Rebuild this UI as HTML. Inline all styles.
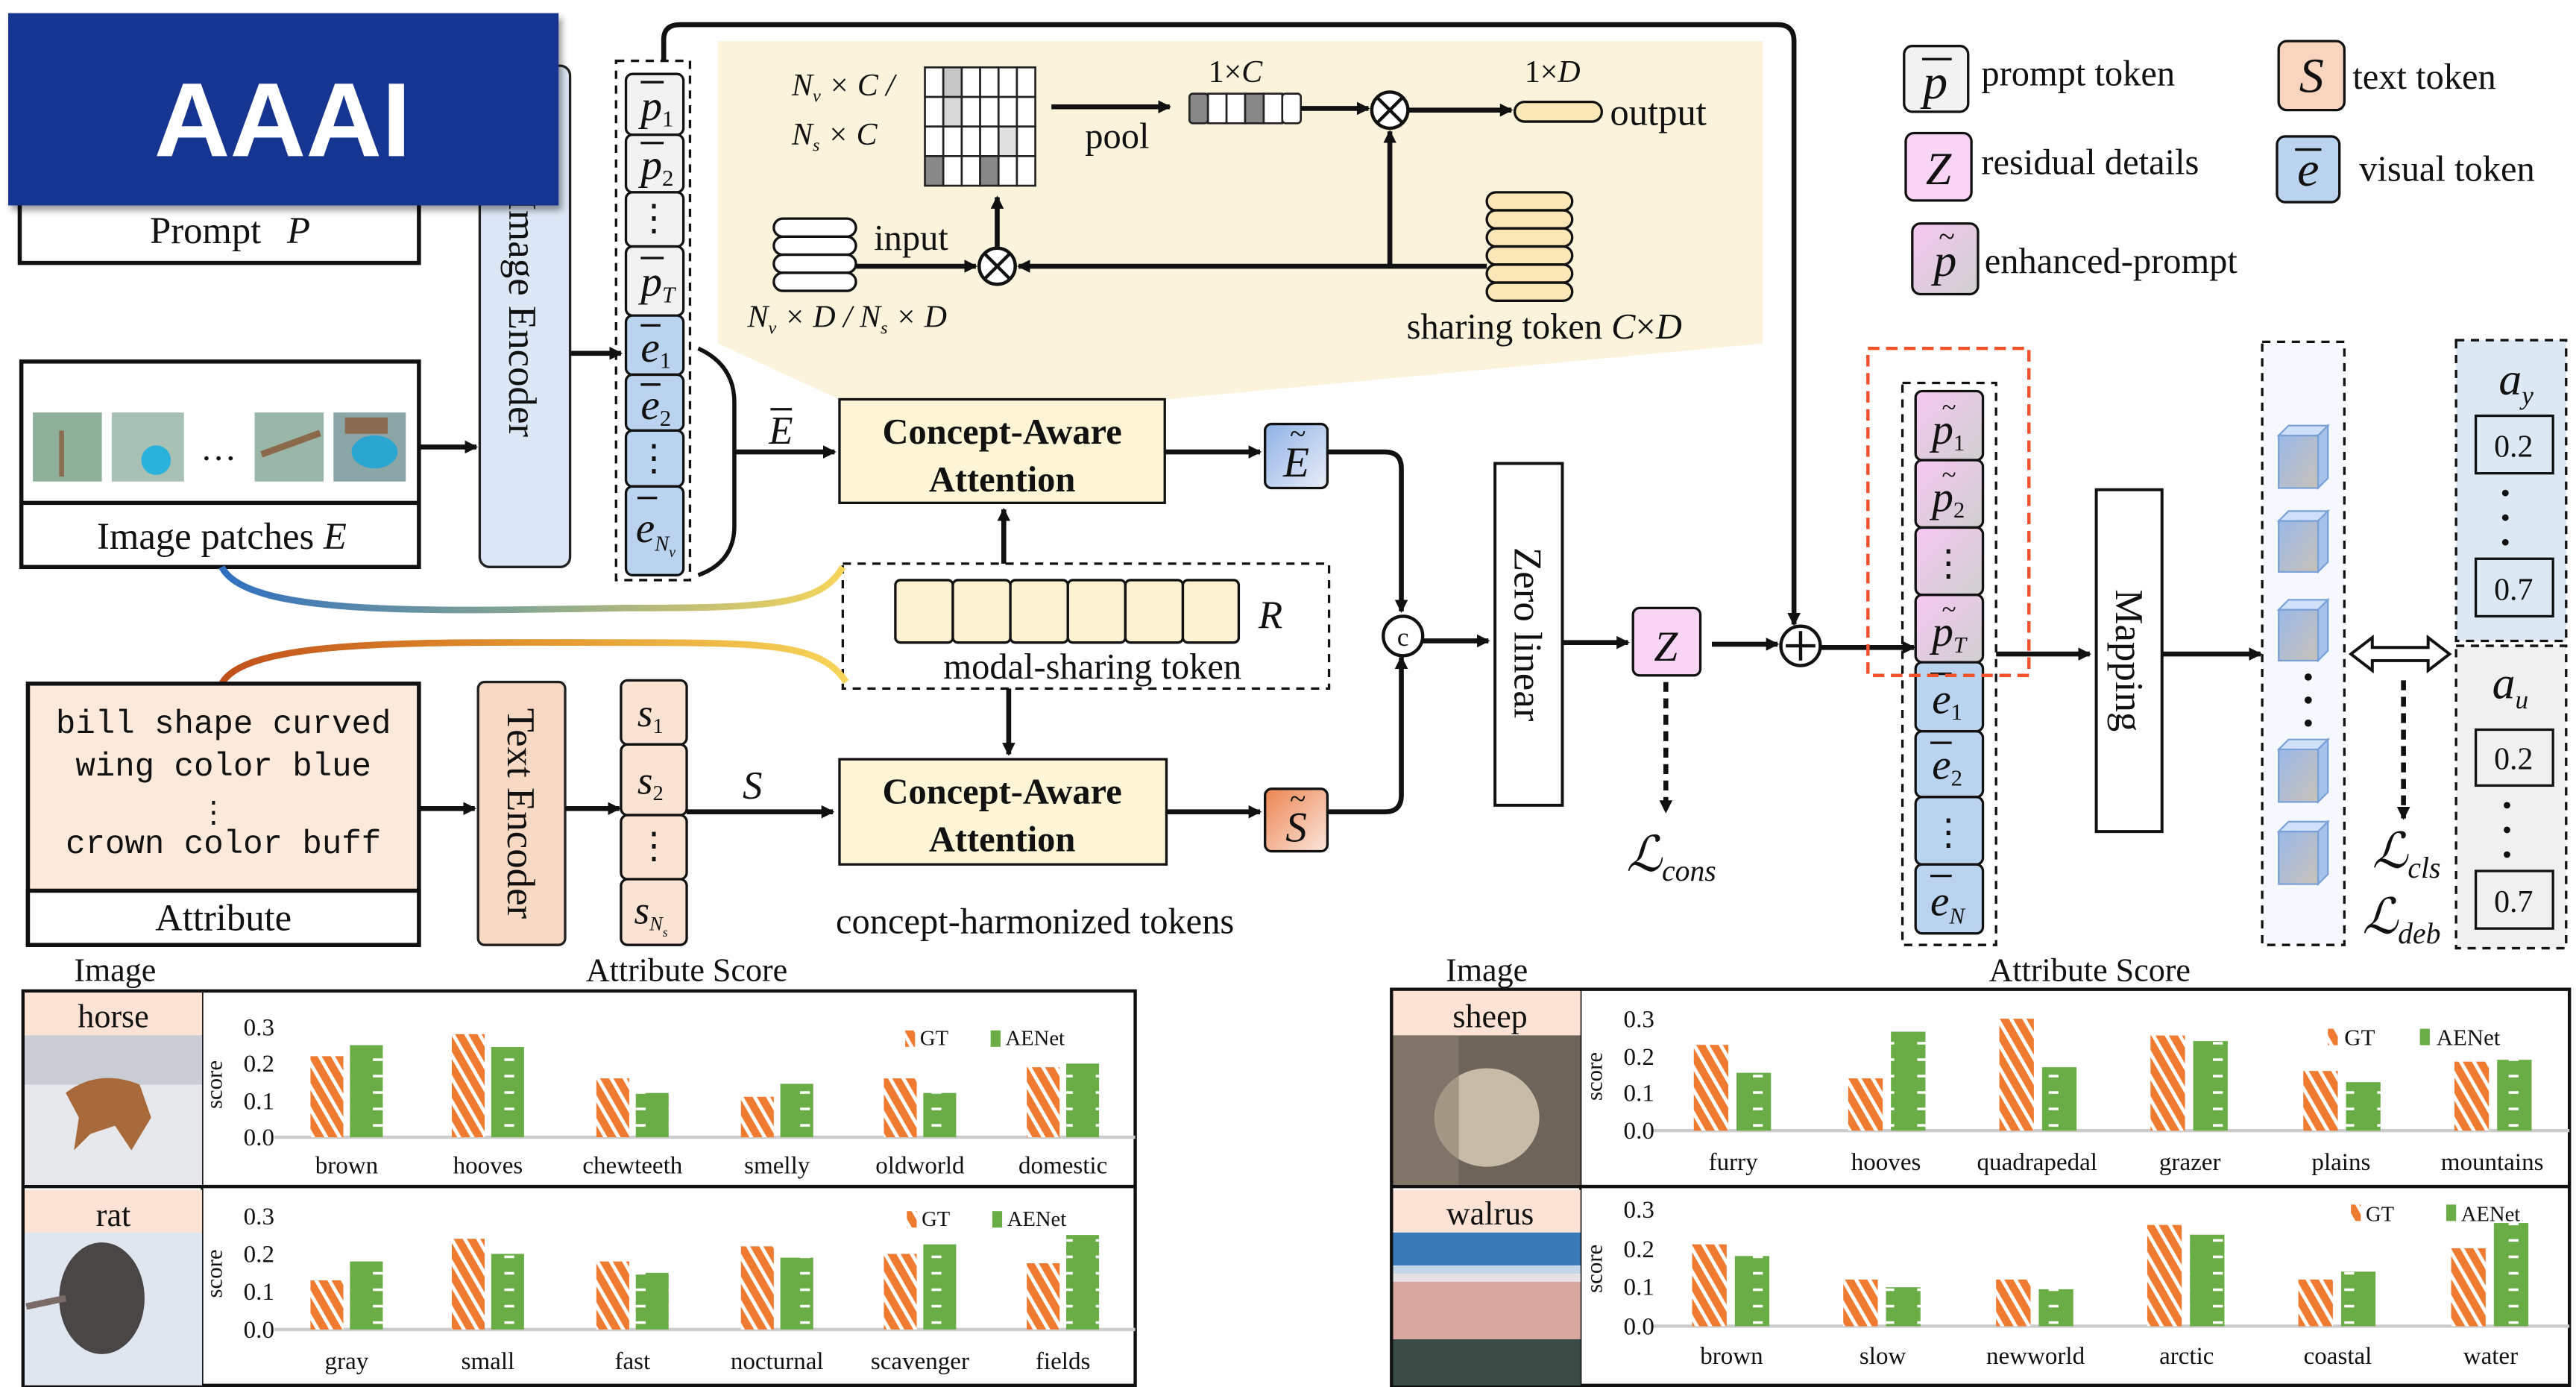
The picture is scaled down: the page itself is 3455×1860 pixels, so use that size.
<!DOCTYPE html>
<html><head><meta charset="utf-8"><style>
html,body{margin:0;padding:0;background:#fff;}
svg{display:block;}
text{font-family:"Liberation Serif",serif;fill:#111;}
.it{font-style:italic;}
.mono{font-family:"Liberation Mono",monospace;}
</style></head><body>
<svg width="3455" height="1860" viewBox="0 0 1568 844" preserveAspectRatio="none" xmlns="http://www.w3.org/2000/svg">
<defs>
<marker id="ar" markerWidth="8" markerHeight="8" refX="7" refY="4" orient="auto" markerUnits="userSpaceOnUse"><path d="M0,0 L8,4 L0,8 z" fill="#111"/></marker>
<linearGradient id="gb" x1="0" x2="1"><stop offset="0" stop-color="#2f6fc0"/><stop offset="0.5" stop-color="#8aa890"/><stop offset="1" stop-color="#f7d55a"/></linearGradient>
<linearGradient id="go" x1="0" x2="1"><stop offset="0" stop-color="#c0501a"/><stop offset="0.5" stop-color="#e3962e"/><stop offset="1" stop-color="#f7d55a"/></linearGradient>
<linearGradient id="tp" x1="0" y1="0" x2="1" y2="1"><stop offset="0" stop-color="#f6c8f2"/><stop offset="1" stop-color="#cfcfcf"/></linearGradient>
<linearGradient id="te" x1="0" y1="0" x2="1" y2="1"><stop offset="0" stop-color="#8fb2e6"/><stop offset="1" stop-color="#e9eef8"/></linearGradient>
<linearGradient id="ts" x1="0" y1="0" x2="1" y2="1"><stop offset="0" stop-color="#ec8450"/><stop offset="1" stop-color="#fbe6dc"/></linearGradient>
<linearGradient id="cube" x1="0" y1="0" x2="1" y2="1"><stop offset="0" stop-color="#9ab8e8"/><stop offset="1" stop-color="#c8c2b8"/></linearGradient>
<pattern id="gt" width="7" height="7" patternUnits="userSpaceOnUse" patternTransform="rotate(-30)"><rect width="7" height="7" fill="#ee7b30"/><rect width="2.2" height="7" fill="#fff"/></pattern>
<pattern id="ae" width="20" height="10" patternUnits="userSpaceOnUse"><rect width="20" height="10" fill="#6aac45"/><rect x="7" y="4" width="6" height="1.6" fill="#fff"/></pattern>
<filter id="sh"><feDropShadow dx="2" dy="3" stdDeviation="2" flood-opacity="0.4"/></filter>
</defs>

<polygon points="437,25 1073,25 1073,209 710,243 511,243 437,209" fill="#fcf3dc"/>

<path d="M404,37 L404,24 Q404,15 414,15 L1082,15 Q1092,15 1092,25 L1092,380" fill="none" stroke="#111" stroke-width="3" marker-end="url(#ar)"/>

<rect x="12" y="100" width="243" height="60" fill="#fff" stroke="#111" stroke-width="2.5"/>
<text x="140" y="148" font-size="23" text-anchor="middle">Prompt <tspan class="it" dx="10">P</tspan></text>

<rect x="292" y="40" width="55" height="305" rx="6" fill="#dbe7f5" stroke="#222" stroke-width="1.5"/>
<text x="318" y="193" font-size="24" text-anchor="middle" transform="rotate(90 318 193)" dy="8">Image Encoder</text>

<rect x="13" y="220" width="242" height="125" fill="#fff" stroke="#111" stroke-width="2.5"/>
<line x1="13" y1="306" x2="255" y2="306" stroke="#111" stroke-width="2.5"/>
<rect x="20" y="251" width="42" height="42" fill="#8fb09a"/><rect x="36" y="262" width="3" height="28" fill="#8a6e50"/>
<rect x="68" y="251" width="44" height="42" fill="#a9c0b4"/><circle cx="95" cy="280" r="9" fill="#2bb2dc"/>
<text x="133" y="280" font-size="22" text-anchor="middle">…</text>
<rect x="155" y="251" width="42" height="42" fill="#9ab6a8"/><rect x="158" y="268" width="38" height="4" fill="#8a6a4a" transform="rotate(-20 177 270)"/>
<rect x="203" y="251" width="44" height="42" fill="#8aa6a6"/><ellipse cx="228" cy="275" rx="14" ry="10" fill="#2aa6d0"/><rect x="210" y="254" width="26" height="10" fill="#8a6a50"/>
<text x="135" y="334" font-size="23" text-anchor="middle">Image patches <tspan class="it">E</tspan></text>
<line x1="255" y1="272" x2="290" y2="272" stroke="#111" stroke-width="3" marker-end="url(#ar)"/>
<line x1="347" y1="215" x2="378" y2="215" stroke="#111" stroke-width="3" marker-end="url(#ar)"/>

<rect x="375" y="37" width="45" height="316" fill="none" stroke="#111" stroke-width="1.5" stroke-dasharray="5,4"/>
<g stroke="#111" stroke-width="1.5">
<rect x="381" y="45" width="35" height="37" rx="4" fill="#f2f2f2"/>
<rect x="381" y="82" width="35" height="35" rx="4" fill="#f2f2f2"/>
<rect x="381" y="117" width="35" height="33" rx="4" fill="#f2f2f2"/>
<rect x="381" y="150" width="35" height="42" rx="4" fill="#f2f2f2"/>
<rect x="381" y="192" width="35" height="36" rx="4" fill="#bad3ee"/>
<rect x="381" y="228" width="35" height="34" rx="4" fill="#bad3ee"/>
<rect x="381" y="262" width="35" height="34" rx="4" fill="#bad3ee"/>
<rect x="381" y="296" width="35" height="54" rx="4" fill="#bad3ee"/>
<line x1="390" y1="50" x2="404" y2="50"/><line x1="390" y1="87" x2="404" y2="87"/><line x1="390" y1="157" x2="404" y2="157"/>
<line x1="390" y1="198" x2="402" y2="198"/><line x1="390" y1="234" x2="402" y2="234"/><line x1="388" y1="303" x2="400" y2="303"/>
</g>
<text x="390" y="73" font-size="26" class="it">p<tspan font-size="14" font-style="normal" dy="4">1</tspan></text>
<text x="390" y="109" font-size="26" class="it">p<tspan font-size="14" font-style="normal" dy="4">2</tspan></text>
<text x="398" y="140" font-size="22" text-anchor="middle">⋮</text>
<text x="390" y="180" font-size="26" class="it">p<tspan font-size="14" dy="4">T</tspan></text>
<text x="390" y="220" font-size="26" class="it">e<tspan font-size="14" font-style="normal" dy="4">1</tspan></text>
<text x="390" y="255" font-size="26" class="it">e<tspan font-size="14" font-style="normal" dy="4">2</tspan></text>
<text x="398" y="286" font-size="22" text-anchor="middle">⋮</text>
<text x="387" y="330" font-size="26" class="it">e<tspan font-size="13" dy="5">N</tspan><tspan font-size="9" dy="4">v</tspan></text>

<path d="M425,212 Q447,222 447,245 L447,320 Q447,342 425,350" fill="none" stroke="#111" stroke-width="2.5"/>
<line x1="447" y1="275" x2="508" y2="275" stroke="#111" stroke-width="3" marker-end="url(#ar)"/>
<text x="468" y="270" font-size="24" class="it">E</text><line x1="469" y1="249" x2="482" y2="249" stroke="#111" stroke-width="1.5"/>

<text x="482" y="58" font-size="19" class="it">N<tspan font-size="11" dy="4">v</tspan><tspan dy="-4"> × C /</tspan></text>
<text x="482" y="88" font-size="19" class="it">N<tspan font-size="11" dy="4">s</tspan><tspan dy="-4"> × C</tspan></text>
<g stroke="#222" stroke-width="1.2">
<rect x="563" y="41" width="11.2" height="18" fill="#fff"/><rect x="574.2" y="41" width="11.2" height="18" fill="#c8c8c8"/><rect x="585.4" y="41" width="11.2" height="18" fill="#fff"/><rect x="596.6" y="41" width="11.2" height="18" fill="#fff"/><rect x="607.8" y="41" width="11.2" height="18" fill="#fff"/><rect x="619" y="41" width="11.2" height="18" fill="#fff"/>
<rect x="563" y="59" width="11.2" height="18" fill="#fff"/><rect x="574.2" y="59" width="11.2" height="18" fill="#d8d8d8"/><rect x="585.4" y="59" width="11.2" height="18" fill="#fff"/><rect x="596.6" y="59" width="11.2" height="18" fill="#fff"/><rect x="607.8" y="59" width="11.2" height="18" fill="#fff"/><rect x="619" y="59" width="11.2" height="18" fill="#fff"/>
<rect x="563" y="77" width="11.2" height="18" fill="#fff"/><rect x="574.2" y="77" width="11.2" height="18" fill="#fff"/><rect x="585.4" y="77" width="11.2" height="18" fill="#fff"/><rect x="596.6" y="77" width="11.2" height="18" fill="#fff"/><rect x="607.8" y="77" width="11.2" height="18" fill="#e0e0e0"/><rect x="619" y="77" width="11.2" height="18" fill="#fff"/>
<rect x="563" y="95" width="11.2" height="18" fill="#888"/><rect x="574.2" y="95" width="11.2" height="18" fill="#fff"/><rect x="585.4" y="95" width="11.2" height="18" fill="#fff"/><rect x="596.6" y="95" width="11.2" height="18" fill="#888"/><rect x="607.8" y="95" width="11.2" height="18" fill="#fff"/><rect x="619" y="95" width="11.2" height="18" fill="#fff"/>
</g>
<line x1="640" y1="65" x2="712" y2="65" stroke="#111" stroke-width="3" marker-end="url(#ar)"/>
<text x="680" y="90" font-size="22" text-anchor="middle">pool</text>
<text x="752" y="50" font-size="19" text-anchor="middle">1×<tspan class="it">C</tspan></text>
<g stroke="#222" stroke-width="1.2">
<rect x="724" y="57" width="11.3" height="18" rx="2" fill="#888"/><rect x="735.3" y="57" width="11.3" height="18" fill="#fff"/><rect x="746.6" y="57" width="11.3" height="18" fill="#fff"/><rect x="757.9" y="57" width="11.3" height="18" fill="#888"/><rect x="769.2" y="57" width="11.3" height="18" fill="#fff"/><rect x="780.5" y="57" width="11.3" height="18" rx="2" fill="#fff"/>
</g>
<line x1="792" y1="66" x2="833" y2="66" stroke="#111" stroke-width="3" marker-end="url(#ar)"/>
<circle cx="846" cy="67" r="11" fill="#fff" stroke="#111" stroke-width="2"/>
<path d="M838,59 L854,75 M854,59 L838,75" stroke="#111" stroke-width="2"/>
<line x1="857" y1="67" x2="920" y2="67" stroke="#111" stroke-width="3" marker-end="url(#ar)"/>
<rect x="922" y="62" width="53" height="12" rx="6" fill="#fbe6b8" stroke="#111" stroke-width="1.5"/>
<text x="945" y="50" font-size="19" text-anchor="middle">1×<tspan class="it">D</tspan></text>
<text x="980" y="76" font-size="23">output</text>
<line x1="846" y1="162" x2="846" y2="80" stroke="#111" stroke-width="3" marker-end="url(#ar)"/>
<g fill="#fbe6b8" stroke="#111" stroke-width="1.5">
<rect x="905" y="117" width="52" height="11" rx="5.5"/><rect x="905" y="128" width="52" height="11" rx="5.5"/><rect x="905" y="139" width="52" height="11" rx="5.5"/><rect x="905" y="150" width="52" height="11" rx="5.5"/><rect x="905" y="161" width="52" height="11" rx="5.5"/><rect x="905" y="172" width="52" height="11" rx="5.5"/>
</g>
<line x1="905" y1="162" x2="620" y2="162" stroke="#111" stroke-width="3" marker-end="url(#ar)"/>
<text x="940" y="206" font-size="22" text-anchor="middle">sharing token <tspan class="it">C</tspan>×<tspan class="it">D</tspan></text>
<g fill="#fff" stroke="#111" stroke-width="1.5">
<rect x="471" y="133" width="50" height="11" rx="5.5"/><rect x="471" y="144" width="50" height="11" rx="5.5"/><rect x="471" y="155" width="50" height="11" rx="5.5"/><rect x="471" y="166" width="50" height="11" rx="5.5"/>
</g>
<text x="532" y="152" font-size="22">input</text>
<line x1="521" y1="162" x2="594" y2="162" stroke="#111" stroke-width="3" marker-end="url(#ar)"/>
<circle cx="607" cy="162" r="11" fill="#fff" stroke="#111" stroke-width="2"/>
<path d="M599,154 L615,170 M615,154 L599,170" stroke="#111" stroke-width="2"/>
<line x1="607" y1="151" x2="607" y2="120" stroke="#111" stroke-width="3" marker-end="url(#ar)"/>
<text x="455" y="199" font-size="19" class="it">N<tspan font-size="11" dy="4">v</tspan><tspan dy="-4"> × D / N</tspan><tspan font-size="11" dy="4">s</tspan><tspan dy="-4"> × D</tspan></text>

<rect x="511" y="243" width="198" height="63" fill="#fdf5d5" stroke="#111" stroke-width="1.5"/>
<text x="610" y="270" font-size="22" font-weight="bold" text-anchor="middle">Concept-Aware</text>
<text x="610" y="299" font-size="22" font-weight="bold" text-anchor="middle">Attention</text>
<line x1="709" y1="275" x2="767" y2="275" stroke="#111" stroke-width="3" marker-end="url(#ar)"/>
<rect x="770" y="258" width="38" height="39" rx="4" fill="url(#te)" stroke="#111" stroke-width="1.5"/>
<text x="789" y="290" font-size="26" class="it" text-anchor="middle">E</text><text x="790" y="270" font-size="18" text-anchor="middle">~</text>
<path d="M808,275 L843,275 Q853,275 853,285 L853,372" fill="none" stroke="#111" stroke-width="3" marker-end="url(#ar)"/>
<line x1="611" y1="344" x2="611" y2="310" stroke="#111" stroke-width="3" marker-end="url(#ar)"/>

<rect x="513" y="343" width="296" height="76" fill="#fff" stroke="#111" stroke-width="1.5" stroke-dasharray="5,4"/>
<g fill="#fdf2d2" stroke="#111" stroke-width="1.5">
<rect x="545" y="353" width="35" height="38" rx="3"/><rect x="580" y="353" width="35" height="38" rx="3"/><rect x="615" y="353" width="35" height="38" rx="3"/><rect x="650" y="353" width="35" height="38" rx="3"/><rect x="685" y="353" width="35" height="38" rx="3"/><rect x="720" y="353" width="34" height="38" rx="3"/>
</g>
<text x="766" y="382" font-size="24" class="it">R</text>
<text x="665" y="413" font-size="22" text-anchor="middle">modal-sharing token</text>
<line x1="614" y1="419" x2="614" y2="459" stroke="#111" stroke-width="3" marker-end="url(#ar)"/>

<rect x="511" y="462" width="199" height="64" fill="#fdf5d5" stroke="#111" stroke-width="1.5"/>
<text x="610" y="489" font-size="22" font-weight="bold" text-anchor="middle">Concept-Aware</text>
<text x="610" y="518" font-size="22" font-weight="bold" text-anchor="middle">Attention</text>
<line x1="710" y1="494" x2="767" y2="494" stroke="#111" stroke-width="3" marker-end="url(#ar)"/>
<rect x="770" y="480" width="38" height="38" rx="4" fill="url(#ts)" stroke="#111" stroke-width="1.5"/>
<text x="789" y="512" font-size="26" class="it" text-anchor="middle">S</text><text x="790" y="492" font-size="18" text-anchor="middle">~</text>
<path d="M808,494 L843,494 Q853,494 853,484 L853,400" fill="none" stroke="#111" stroke-width="3" marker-end="url(#ar)"/>
<text x="630" y="568" font-size="22" text-anchor="middle">concept-harmonized tokens</text>

<path d="M135,345 C150,375 260,372 380,370 C470,370 500,368 513,345" fill="none" stroke="url(#gb)" stroke-width="4"/>
<path d="M135,416 C150,388 260,391 380,391 C470,391 500,392 515,415" fill="none" stroke="url(#go)" stroke-width="4"/>

<rect x="17" y="416" width="238" height="159" fill="#fbe9dc" stroke="#111" stroke-width="2.5"/>
<rect x="17" y="542" width="238" height="33" fill="#fff" stroke="#111" stroke-width="2.5"/>
<text x="136" y="446" font-size="20" class="mono" text-anchor="middle">bill shape curved</text>
<text x="136" y="472" font-size="20" class="mono" text-anchor="middle">wing color blue</text>
<text x="130" y="500" font-size="18" text-anchor="middle">⋮</text>
<text x="136" y="519" font-size="20" class="mono" text-anchor="middle">crown color buff</text>
<text x="136" y="566" font-size="23" text-anchor="middle">Attribute</text>
<line x1="255" y1="492" x2="289" y2="492" stroke="#111" stroke-width="3" marker-end="url(#ar)"/>
<rect x="291" y="415" width="53" height="160" rx="4" fill="#f8d9c4" stroke="#222" stroke-width="1.5"/>
<text x="317" y="495" font-size="24" text-anchor="middle" transform="rotate(90 317 495)" dy="8">Text Encoder</text>
<line x1="344" y1="492" x2="377" y2="492" stroke="#111" stroke-width="3" marker-end="url(#ar)"/>
<g fill="#fbe3d3" stroke="#111" stroke-width="1.5">
<rect x="378" y="414" width="40" height="39" rx="4"/><rect x="378" y="453" width="40" height="43" rx="4"/><rect x="378" y="496" width="40" height="39" rx="4"/><rect x="378" y="535" width="40" height="40" rx="4"/>
</g>
<text x="388" y="442" font-size="24" class="it">s<tspan font-size="13" font-style="normal" dy="4">1</tspan></text>
<text x="388" y="483" font-size="24" class="it">s<tspan font-size="13" font-style="normal" dy="4">2</tspan></text>
<text x="398" y="522" font-size="22" text-anchor="middle">⋮</text>
<text x="386" y="562" font-size="24" class="it">s<tspan font-size="12" dy="4">N</tspan><tspan font-size="8" dy="4">s</tspan></text>
<line x1="418" y1="494" x2="507" y2="494" stroke="#111" stroke-width="3" marker-end="url(#ar)"/>
<text x="452" y="486" font-size="24" class="it">S</text>

<circle cx="854" cy="387" r="12" fill="#fff" stroke="#111" stroke-width="2"/>
<text x="854" y="393" font-size="16" text-anchor="middle">c</text>
<line x1="866" y1="390" x2="906" y2="390" stroke="#111" stroke-width="3" marker-end="url(#ar)"/>
<rect x="910" y="282" width="41" height="208" fill="#fff" stroke="#111" stroke-width="1.8"/>
<text x="930" y="386" font-size="24" text-anchor="middle" transform="rotate(90 930 386)" dy="8">Zero linear</text>
<line x1="951" y1="391" x2="991" y2="391" stroke="#111" stroke-width="3" marker-end="url(#ar)"/>
<rect x="994" y="370" width="41" height="41" rx="4" fill="#f9d5f5" stroke="#111" stroke-width="1.5"/>
<text x="1014" y="402" font-size="26" class="it" text-anchor="middle">Z</text>
<line x1="1014" y1="415" x2="1014" y2="494" stroke="#111" stroke-width="3" stroke-dasharray="6,4" marker-end="url(#ar)"/>
<text x="990" y="530" font-size="30" class="it">ℒ<tspan font-size="18" dy="6">cons</tspan></text>
<line x1="1042" y1="392" x2="1082" y2="392" stroke="#111" stroke-width="3" marker-end="url(#ar)"/>
<circle cx="1096" cy="393" r="12" fill="#fff" stroke="#111" stroke-width="2"/>
<path d="M1087,393 H1105 M1096,384 V402" stroke="#111" stroke-width="2"/>
<line x1="1108" y1="394" x2="1165" y2="394" stroke="#111" stroke-width="3" marker-end="url(#ar)"/>

<rect x="1158" y="233" width="57" height="342" fill="none" stroke="#111" stroke-width="1.5" stroke-dasharray="5,4"/>
<g stroke="#111" stroke-width="1.5">
<rect x="1166" y="238" width="41" height="42" rx="4" fill="url(#tp)"/>
<rect x="1166" y="280" width="41" height="41" rx="4" fill="url(#tp)"/>
<rect x="1166" y="321" width="41" height="41" rx="4" fill="url(#tp)"/>
<rect x="1166" y="362" width="41" height="41" rx="4" fill="url(#tp)"/>
<rect x="1166" y="403" width="41" height="42" rx="4" fill="#bad3ee"/>
<rect x="1166" y="445" width="41" height="40" rx="4" fill="#bad3ee"/>
<rect x="1166" y="485" width="41" height="41" rx="4" fill="#bad3ee"/>
<rect x="1166" y="526" width="41" height="42" rx="4" fill="#bad3ee"/>
<line x1="1175" y1="410" x2="1188" y2="410"/><line x1="1175" y1="452" x2="1188" y2="452"/><line x1="1175" y1="533" x2="1188" y2="533"/>
</g>
<rect x="1137" y="212" width="98" height="199" fill="none" stroke="#f0502a" stroke-width="2" stroke-dasharray="7,4"/>
<text x="1176" y="270" font-size="26" class="it">p<tspan font-size="14" font-style="normal" dy="4">1</tspan></text><text x="1182" y="253" font-size="16">~</text>
<text x="1176" y="311" font-size="26" class="it">p<tspan font-size="14" font-style="normal" dy="4">2</tspan></text><text x="1182" y="294" font-size="16">~</text>
<text x="1186" y="350" font-size="22" text-anchor="middle">⋮</text>
<text x="1176" y="393" font-size="26" class="it">p<tspan font-size="14" dy="4">T</tspan></text><text x="1182" y="376" font-size="16">~</text>
<text x="1176" y="434" font-size="26" class="it">e<tspan font-size="14" font-style="normal" dy="4">1</tspan></text>
<text x="1176" y="474" font-size="26" class="it">e<tspan font-size="14" font-style="normal" dy="4">2</tspan></text>
<text x="1186" y="514" font-size="22" text-anchor="middle">⋮</text>
<text x="1175" y="557" font-size="26" class="it">e<tspan font-size="14" dy="5">N</tspan></text>

<line x1="1215" y1="398" x2="1272" y2="398" stroke="#111" stroke-width="3" marker-end="url(#ar)"/>
<rect x="1276" y="298" width="40" height="208" fill="#fff" stroke="#111" stroke-width="1.8"/>
<text x="1296" y="402" font-size="24" text-anchor="middle" transform="rotate(90 1296 402)" dy="8">Mapping</text>
<line x1="1316" y1="398" x2="1376" y2="398" stroke="#111" stroke-width="3" marker-end="url(#ar)"/>
<rect x="1377" y="208" width="50" height="367" fill="#f5f8fd" stroke="#111" stroke-width="1.5" stroke-dasharray="5,4"/>
<g stroke="#7aa0d8" stroke-width="1">
<g><rect x="1387" y="265" width="24" height="32" fill="url(#cube)"/><polygon points="1387,265 1393,259 1417,259 1411,265" fill="#cfe0f8"/><polygon points="1411,265 1417,259 1417,291 1411,297" fill="#a7c2ea"/></g>
<g><rect x="1387" y="317" width="24" height="31" fill="url(#cube)"/><polygon points="1387,317 1393,311 1417,311 1411,317" fill="#cfe0f8"/><polygon points="1411,317 1417,311 1417,342 1411,348" fill="#a7c2ea"/></g>
<g><rect x="1387" y="371" width="24" height="31" fill="url(#cube)"/><polygon points="1387,371 1393,365 1417,365 1411,371" fill="#cfe0f8"/><polygon points="1411,371 1417,365 1417,396 1411,402" fill="#a7c2ea"/></g>
<g><rect x="1387" y="456" width="24" height="32" fill="url(#cube)"/><polygon points="1387,456 1393,450 1417,450 1411,456" fill="#cfe0f8"/><polygon points="1411,456 1417,450 1417,482 1411,488" fill="#a7c2ea"/></g>
<g><rect x="1387" y="506" width="24" height="32" fill="url(#cube)"/><polygon points="1387,506 1393,500 1417,500 1411,506" fill="#cfe0f8"/><polygon points="1411,506 1417,500 1417,532 1411,538" fill="#a7c2ea"/></g>
</g>
<g fill="#111"><circle cx="1405" cy="412" r="2.2"/><circle cx="1405" cy="426" r="2.2"/><circle cx="1405" cy="440" r="2.2"/></g>
<polygon points="1431,398 1444,388 1444,394 1478,394 1478,388 1491,398 1478,408 1478,402 1444,402 1444,408" fill="#fff" stroke="#111" stroke-width="1.8"/>
<line x1="1463" y1="414" x2="1463" y2="498" stroke="#111" stroke-width="3" stroke-dasharray="6,4" marker-end="url(#ar)"/>
<text x="1444" y="528" font-size="30" class="it">ℒ<tspan font-size="18" dy="6">cls</tspan></text>
<text x="1438" y="568" font-size="30" class="it">ℒ<tspan font-size="18" dy="6">deb</tspan></text>

<rect x="1495" y="207" width="67" height="183" fill="#dce9f5" stroke="#111" stroke-width="1.5" stroke-dasharray="5,4"/>
<text x="1521" y="240" font-size="28" class="it">a<tspan font-size="16" dy="6">y</tspan></text>
<rect x="1507" y="253" width="47" height="35" fill="none" stroke="#111" stroke-width="1.5"/>
<text x="1530" y="278" font-size="19" text-anchor="middle">0.2</text>
<g fill="#111"><circle cx="1525" cy="300" r="2"/><circle cx="1525" cy="315" r="2"/><circle cx="1525" cy="330" r="2"/></g>
<rect x="1507" y="340" width="47" height="35" fill="none" stroke="#111" stroke-width="1.5"/>
<text x="1530" y="365" font-size="19" text-anchor="middle">0.7</text>
<rect x="1495" y="393" width="67" height="184" fill="#f0f0f0" stroke="#111" stroke-width="1.5" stroke-dasharray="5,4"/>
<text x="1517" y="425" font-size="28" class="it">a<tspan font-size="16" dy="6">u</tspan></text>
<rect x="1507" y="444" width="47" height="34" fill="none" stroke="#111" stroke-width="1.5"/>
<text x="1530" y="468" font-size="19" text-anchor="middle">0.2</text>
<g fill="#111"><circle cx="1526" cy="490" r="2"/><circle cx="1526" cy="505" r="2"/><circle cx="1526" cy="520" r="2"/></g>
<rect x="1507" y="530" width="47" height="35" fill="none" stroke="#111" stroke-width="1.5"/>
<text x="1530" y="555" font-size="19" text-anchor="middle">0.7</text>

<rect x="1159" y="28" width="39" height="40" rx="5" fill="#f2f2f2" stroke="#111" stroke-width="1.5"/>
<text x="1178" y="60" font-size="30" class="it" text-anchor="middle">p</text><line x1="1170" y1="36" x2="1188" y2="36" stroke="#111" stroke-width="1.5"/>
<text x="1206" y="52" font-size="22">prompt token</text>
<rect x="1387" y="25" width="40" height="42" rx="5" fill="#f9d5c0" stroke="#111" stroke-width="1.5"/>
<text x="1407" y="56" font-size="30" class="it" text-anchor="middle">S</text>
<text x="1432" y="54" font-size="22">text token</text>
<rect x="1160" y="81" width="40" height="41" rx="5" fill="#f9d5f5" stroke="#111" stroke-width="1.5"/>
<text x="1180" y="112" font-size="28" class="it" text-anchor="middle">Z</text>
<text x="1206" y="106" font-size="22">residual details</text>
<rect x="1386" y="83" width="38" height="40" rx="5" fill="#bad3ee" stroke="#111" stroke-width="1.5"/>
<text x="1405" y="113" font-size="30" class="it" text-anchor="middle">e</text><line x1="1397" y1="91" x2="1413" y2="91" stroke="#111" stroke-width="1.5"/>
<text x="1436" y="110" font-size="22">visual token</text>
<rect x="1164" y="136" width="40" height="43" rx="5" fill="url(#tp)" stroke="#111" stroke-width="1.5"/>
<text x="1184" y="168" font-size="28" class="it" text-anchor="middle">p</text><text x="1185" y="150" font-size="18" text-anchor="middle">~</text>
<text x="1208" y="166" font-size="22">enhanced-prompt</text>

<rect x="5" y="8" width="335" height="117" fill="#163591" filter="url(#sh)"/>
<text x="172" y="95" font-size="64" font-weight="bold" fill="#fff" text-anchor="middle" style="fill:#fff;font-family:'Liberation Sans',sans-serif">AAAI</text>

<text x="70" y="597" font-size="20" text-anchor="middle">Image</text>
<text x="418" y="597" font-size="20" text-anchor="middle">Attribute Score</text>
<text x="905" y="597" font-size="20" text-anchor="middle">Image</text>
<text x="1272" y="597" font-size="20" text-anchor="middle">Attribute Score</text>

<rect x="14" y="603" width="677" height="240" fill="#fff" stroke="#111" stroke-width="2"/>
<line x1="14" y1="722" x2="691" y2="722" stroke="#111" stroke-width="2"/>
<line x1="123" y1="603" x2="123" y2="843" stroke="#111" stroke-width="1.5"/>
<rect x="15" y="604" width="108" height="26" fill="#fde3d6"/>
<text x="69" y="625" font-size="20" text-anchor="middle">horse</text>
<rect x="15" y="630" width="108" height="91" fill="#e6e8ec"/>
<rect x="15" y="630" width="108" height="30" fill="#c9ccd2"/>
<path d="M40,665 Q60,650 85,660 L92,680 L80,700 L70,685 L55,690 L45,700 L48,680 Z" fill="#a86a3a"/>
<rect x="15" y="724" width="108" height="26" fill="#fde3d6"/>
<text x="69" y="746" font-size="20" text-anchor="middle">rat</text>
<rect x="15" y="750" width="108" height="93" fill="#dfe6f0"/>
<ellipse cx="62" cy="790" rx="26" ry="34" fill="#4a4646"/>
<path d="M16,795 L40,790" stroke="#7a6a68" stroke-width="4"/>

<line x1="167" y1="692" x2="691" y2="692" stroke="#ccc" stroke-width="2"/>
<g font-size="15" text-anchor="end"><text x="167" y="697">0.0</text><text x="167" y="675">0.1</text><text x="167" y="652">0.2</text><text x="167" y="630">0.3</text></g>
<text x="135" y="660" font-size="14" text-anchor="middle" transform="rotate(-90 135 660)">score</text>
<g fill="url(#gt)"><rect x="189" y="642.7" width="20" height="49.3"/><rect x="275" y="629.3" width="20" height="62.7"/><rect x="363" y="656.2" width="20" height="35.8"/><rect x="451" y="667.4" width="20" height="24.6"/><rect x="538" y="656.2" width="20" height="35.8"/><rect x="625" y="649.4" width="20" height="42.6"/></g>
<g fill="url(#ae)"><rect x="213" y="636" width="20" height="56"/><rect x="299" y="637.1" width="20" height="54.9"/><rect x="387" y="665.1" width="20" height="26.9"/><rect x="475" y="659.5" width="20" height="32.5"/><rect x="562" y="665.1" width="20" height="26.9"/><rect x="649" y="647.2" width="20" height="44.8"/></g>
<g font-size="15" text-anchor="middle"><text x="211" y="714">brown</text><text x="297" y="714">hooves</text><text x="385" y="714">chewteeth</text><text x="473" y="714">smelly</text><text x="560" y="714">oldworld</text><text x="647" y="714">domestic</text></g>
<rect x="551" y="627" width="6" height="10" fill="url(#gt)"/><text x="560" y="636" font-size="13">GT</text>
<rect x="603" y="627" width="6" height="10" fill="#6aac45"/><text x="612" y="636" font-size="13">AENet</text>

<line x1="167" y1="809" x2="691" y2="809" stroke="#ccc" stroke-width="2"/>
<g font-size="15" text-anchor="end"><text x="167" y="814">0.0</text><text x="167" y="791">0.1</text><text x="167" y="768">0.2</text><text x="167" y="745">0.3</text></g>
<text x="135" y="775" font-size="14" text-anchor="middle" transform="rotate(-90 135 775)">score</text>
<g fill="url(#gt)"><rect x="189" y="779.1" width="20" height="29.9"/><rect x="275" y="753.8" width="20" height="55.2"/><rect x="363" y="767.6" width="20" height="41.4"/><rect x="451" y="758.4" width="20" height="50.6"/><rect x="538" y="763" width="20" height="46"/><rect x="625" y="768.7" width="20" height="40.3"/></g>
<g fill="url(#ae)"><rect x="213" y="767.6" width="20" height="41.4"/><rect x="299" y="763" width="20" height="46"/><rect x="387" y="774.5" width="20" height="34.5"/><rect x="475" y="765.3" width="20" height="43.7"/><rect x="562" y="757.2" width="20" height="51.8"/><rect x="649" y="751.5" width="20" height="57.5"/></g>
<g font-size="15" text-anchor="middle"><text x="211" y="833">gray</text><text x="297" y="833">small</text><text x="385" y="833">fast</text><text x="473" y="833">nocturnal</text><text x="560" y="833">scavenger</text><text x="647" y="833">fields</text></g>
<rect x="552" y="737" width="6" height="10" fill="url(#gt)"/><text x="561" y="746" font-size="13">GT</text>
<rect x="604" y="737" width="6" height="10" fill="#6aac45"/><text x="613" y="746" font-size="13">AENet</text>

<rect x="847" y="602" width="717" height="241" fill="#fff" stroke="#111" stroke-width="2"/>
<line x1="847" y1="722" x2="1564" y2="722" stroke="#111" stroke-width="2"/>
<line x1="962" y1="602" x2="962" y2="843" stroke="#111" stroke-width="1.5"/>
<rect x="848" y="603" width="114" height="27" fill="#fde3d6"/>
<text x="907" y="625" font-size="20" text-anchor="middle">sheep</text>
<rect x="848" y="630" width="114" height="91" fill="#6e645a"/>
<ellipse cx="905" cy="680" rx="32" ry="30" fill="#c8bca8"/>
<rect x="848" y="630" width="40" height="91" fill="#8a7e70" opacity="0.6"/>
<rect x="848" y="724" width="114" height="26" fill="#fde3d6"/>
<text x="907" y="745" font-size="20" text-anchor="middle">walrus</text>
<rect x="848" y="750" width="114" height="93" fill="#3a7ab8"/>
<rect x="848" y="775" width="114" height="40" fill="#d8a8a0"/>
<rect x="848" y="770" width="114" height="10" fill="#e8eef4" opacity="0.8"/>
<rect x="848" y="815" width="114" height="28" fill="#3a4a44"/>

<line x1="1005" y1="688" x2="1564" y2="688" stroke="#ccc" stroke-width="2"/>
<g font-size="15" text-anchor="end"><text x="1007" y="693">0.0</text><text x="1007" y="670">0.1</text><text x="1007" y="648">0.2</text><text x="1007" y="625">0.3</text></g>
<text x="975" y="655" font-size="14" text-anchor="middle" transform="rotate(-90 975 655)">score</text>
<g fill="url(#gt)"><rect x="1031" y="635.8" width="21" height="52.2"/><rect x="1125" y="656.2" width="21" height="31.8"/><rect x="1217" y="619.9" width="21" height="68.1"/><rect x="1309" y="630.1" width="21" height="57.9"/><rect x="1402" y="651.7" width="21" height="36.3"/><rect x="1494" y="646" width="21" height="42"/></g>
<g fill="url(#ae)"><rect x="1057" y="652.8" width="21" height="35.2"/><rect x="1151" y="627.8" width="21" height="60.2"/><rect x="1243" y="649.4" width="21" height="38.6"/><rect x="1335" y="633.5" width="21" height="54.5"/><rect x="1428" y="658.5" width="21" height="29.5"/><rect x="1520" y="644.9" width="21" height="43.1"/></g>
<g font-size="15" text-anchor="middle"><text x="1055" y="712">furry</text><text x="1148" y="712">hooves</text><text x="1240" y="712">quadrapedal</text><text x="1333" y="712">grazer</text><text x="1425" y="712">plains</text><text x="1517" y="712">mountains</text></g>
<rect x="1417" y="626" width="6" height="10" fill="url(#gt)"/><text x="1427" y="636" font-size="14">GT</text>
<rect x="1473" y="626" width="6" height="10" fill="#6aac45"/><text x="1483" y="636" font-size="14">AENet</text>

<line x1="1005" y1="807" x2="1564" y2="807" stroke="#ccc" stroke-width="2"/>
<g font-size="15" text-anchor="end"><text x="1007" y="812">0.0</text><text x="1007" y="788">0.1</text><text x="1007" y="765">0.2</text><text x="1007" y="741">0.3</text></g>
<text x="975" y="772" font-size="14" text-anchor="middle" transform="rotate(-90 975 772)">score</text>
<g fill="url(#gt)"><rect x="1030" y="757.2" width="21" height="49.8"/><rect x="1122" y="778.6" width="21" height="28.4"/><rect x="1215" y="778.6" width="21" height="28.4"/><rect x="1307" y="745.4" width="21" height="61.6"/><rect x="1399" y="778.6" width="21" height="28.4"/><rect x="1492" y="759.6" width="21" height="47.4"/></g>
<g fill="url(#ae)"><rect x="1056" y="764.3" width="21" height="42.7"/><rect x="1148" y="783.3" width="21" height="23.7"/><rect x="1241" y="784.5" width="21" height="22.5"/><rect x="1333" y="751.3" width="21" height="55.7"/><rect x="1425" y="773.8" width="21" height="33.2"/><rect x="1518" y="744.2" width="21" height="62.8"/></g>
<g font-size="15" text-anchor="middle"><text x="1054" y="830">brown</text><text x="1146" y="830">slow</text><text x="1239" y="830">newworld</text><text x="1331" y="830">arctic</text><text x="1423" y="830">coastal</text><text x="1516" y="830">water</text></g>
<rect x="1431" y="733" width="6" height="10" fill="url(#gt)"/><text x="1440" y="743" font-size="13">GT</text>
<rect x="1489" y="733" width="6" height="10" fill="#6aac45"/><text x="1498" y="743" font-size="13">AENet</text>
</svg>
</body></html>
